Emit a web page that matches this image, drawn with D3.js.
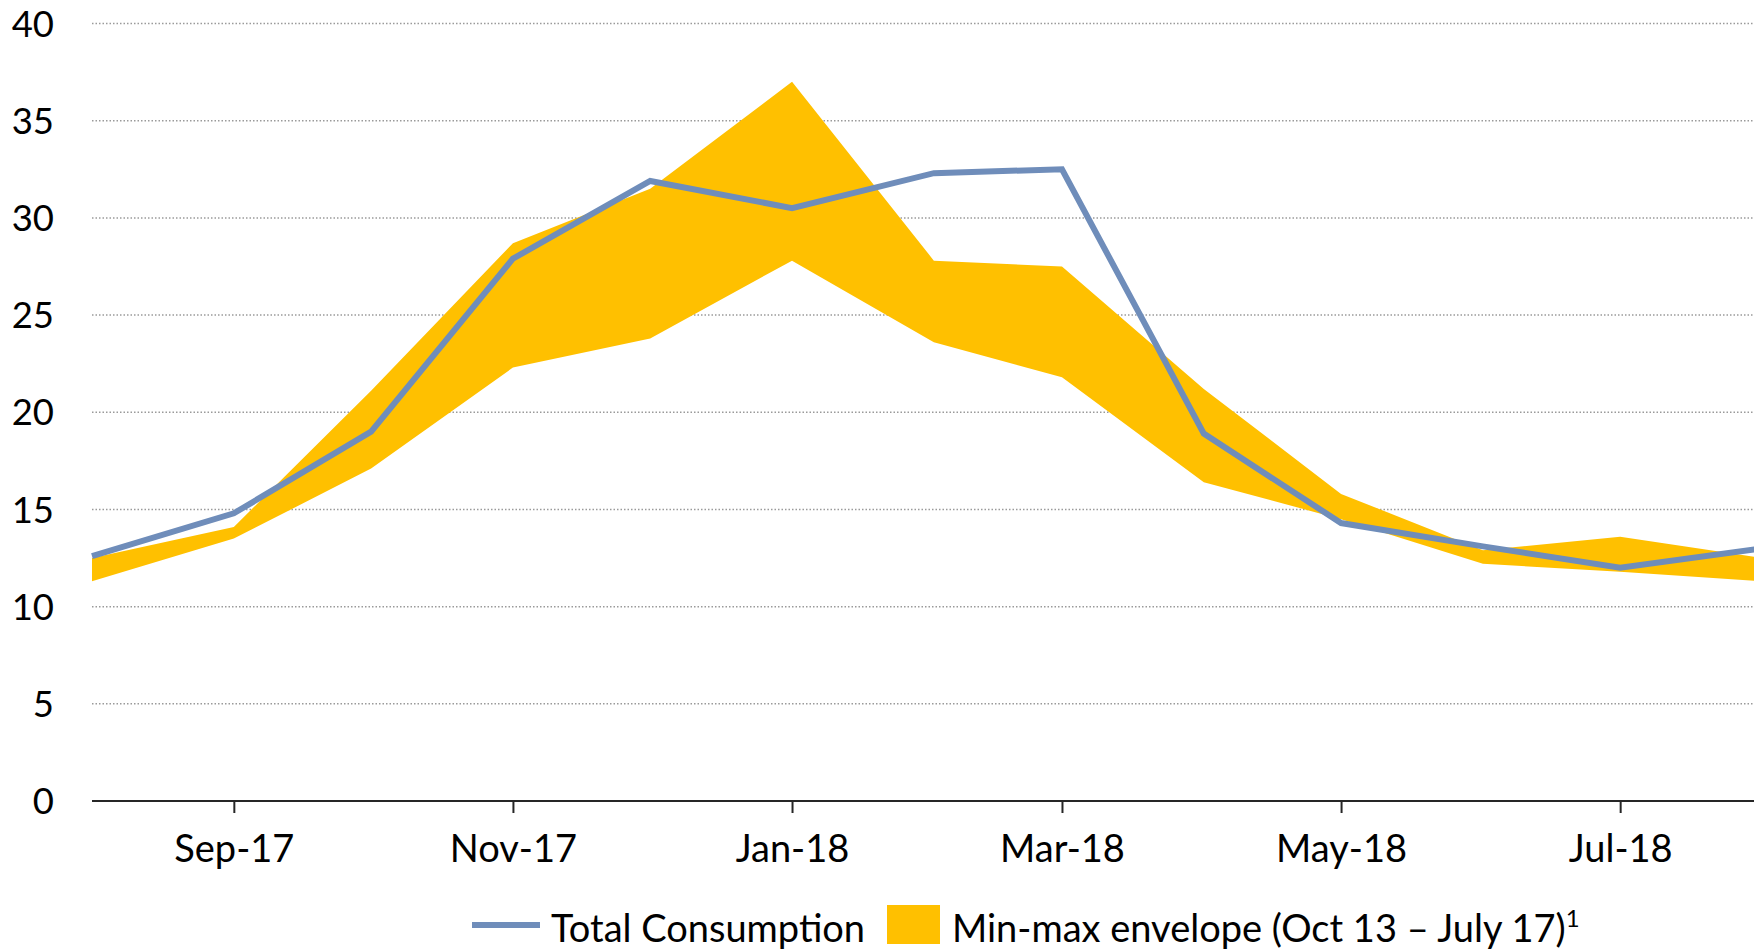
<!DOCTYPE html>
<meta charset="utf-8">
<style>
  body { margin: 0; background: #fff; }
  svg { display: block; font-family: Lato, "Open Sans", sans-serif; }
  .grid line { stroke: #9a9a9a; stroke-width: 1.5px; stroke-dasharray: 1.5,2; }
  .tick-label { font-size: 36.5px; fill: #000; font-family: Lato, sans-serif; }
  .x-label { font-size: 38px; }
  .legend text { font-size: 38px; fill: #000; }
</style>
<body>
<svg width="1754" height="949"></svg>
<script src="https://cdnjs.cloudflare.com/ajax/libs/d3/7.8.5/d3.min.js"></script>
<script>
// data --------------------------------------------------------------------------
var months = ["2017-08", "2017-09", "2017-10", "2017-11", "2017-12", "2018-01", "2018-02",
              "2018-03", "2018-04", "2018-05", "2018-06", "2018-07", "2018-08"];
var totalConsumption = [12.6, 14.8, 19.0, 27.9, 31.9, 30.5, 32.3, 32.5, 18.9, 14.3, 13.1, 12.0, 13.0];
var envelopeMax = [12.5, 14.1, 21.1, 28.7, 31.5, 37.0, 27.8, 27.5, 21.2, 15.8, 12.9, 13.6, 12.5];
var envelopeMin = [11.3, 13.5, 17.1, 22.3, 23.8, 27.8, 23.6, 21.8, 16.4, 14.5, 12.2, 11.8, 11.3];
var yTicks = [0, 5, 10, 15, 20, 25, 30, 35, 40];
var xTickMonths = ["2017-09", "2017-11", "2018-01", "2018-03", "2018-05", "2018-07"];
var legendLabels = ["Total Consumption", "Min-max envelope (Oct 13 \u2013 July 17)", "1"];
//--------------------------------------------------------------------------------

const svg = d3.select('svg'),
      width = +svg.attr('width'),
      height = +svg.attr('height');

const parse = d3.timeParse("%Y-%m");
const fmt = d3.timeFormat("%b-%y");
const dates = months.map(parse);

const x = d3.scaleTime()
  .domain([dates[0], dates[dates.length - 1]])
  .range([92, 1762]);

const y = d3.scaleLinear()
  .domain([0, 40])
  .range([801, 23.5]);

const lineColor = "#6f8dba";
const fillColor = "#ffc000";

// gridlines -----------------------------------------------------------------------
svg.append("g")
  .attr("class", "grid")
  .selectAll("line")
  .data(yTicks.filter(d => d > 0))
  .enter().append("line")
  .attr("x1", x.range()[0])
  .attr("x2", width)
  .attr("y1", d => y(d))
  .attr("y2", d => y(d));

// y labels
svg.append("g")
  .selectAll("text")
  .data(yTicks)
  .enter().append("text")
  .attr("class", "tick-label")
  .attr("x", 54)
  .attr("y", d => y(d))
  .attr("dy", "0.36em")
  .attr("text-anchor", "end")
  .text(d => d);

// envelope ------------------------------------------------------------------------
const rows = dates.map((d, i) => ({ date: d, lo: envelopeMin[i], hi: envelopeMax[i], v: totalConsumption[i] }));

svg.append("path")
  .datum(rows)
  .attr("fill", fillColor)
  .attr("d", d3.area()
    .x(d => x(d.date))
    .y0(d => y(d.lo))
    .y1(d => y(d.hi)));

// x axis --------------------------------------------------------------------------
const xAxis = d3.axisBottom(x)
  .tickValues(xTickMonths.map(parse))
  .tickFormat(fmt)
  .tickSizeOuter(0)
  .tickSize(12)
  .tickPadding(22);

const gx = svg.append("g")
  .attr("transform", `translate(0,${y(0)})`)
  .call(xAxis)
  .attr("font-family", null)
  .attr("font-size", null);
gx.select(".domain").attr("stroke", "#262626").attr("stroke-width", 2.2)
  .attr("d", `M${x.range()[0]},0H${width}`);
gx.selectAll(".tick line").attr("stroke", "#262626").attr("stroke-width", 2);
gx.selectAll(".tick text")
  .attr("class", "tick-label x-label")
  .attr("fill", null);

// consumption line ----------------------------------------------------------------
svg.append("path")
  .datum(rows)
  .attr("fill", "none")
  .attr("stroke", lineColor)
  .attr("stroke-width", 6)
  .attr("stroke-linejoin", "miter")
  .attr("d", d3.line()
    .x(d => x(d.date))
    .y(d => y(d.v)));

// legend --------------------------------------------------------------------------
const legend = svg.append("g").attr("class", "legend");

legend.append("line")
  .attr("x1", 472).attr("x2", 540)
  .attr("y1", 925).attr("y2", 925)
  .attr("stroke", lineColor)
  .attr("stroke-width", 6);

legend.append("text")
  .attr("x", 551).attr("y", 942)
  .text(legendLabels[0]);

legend.append("rect")
  .attr("x", 887).attr("y", 905)
  .attr("width", 53).attr("height", 39)
  .attr("fill", fillColor);

const t2 = legend.append("text")
  .attr("x", 952).attr("y", 942);
t2.append("tspan").text(legendLabels[1]);
t2.append("tspan")
  .attr("dy", -15)
  .attr("font-size", "24px")
  .text(legendLabels[2]);
</script>
</body>
